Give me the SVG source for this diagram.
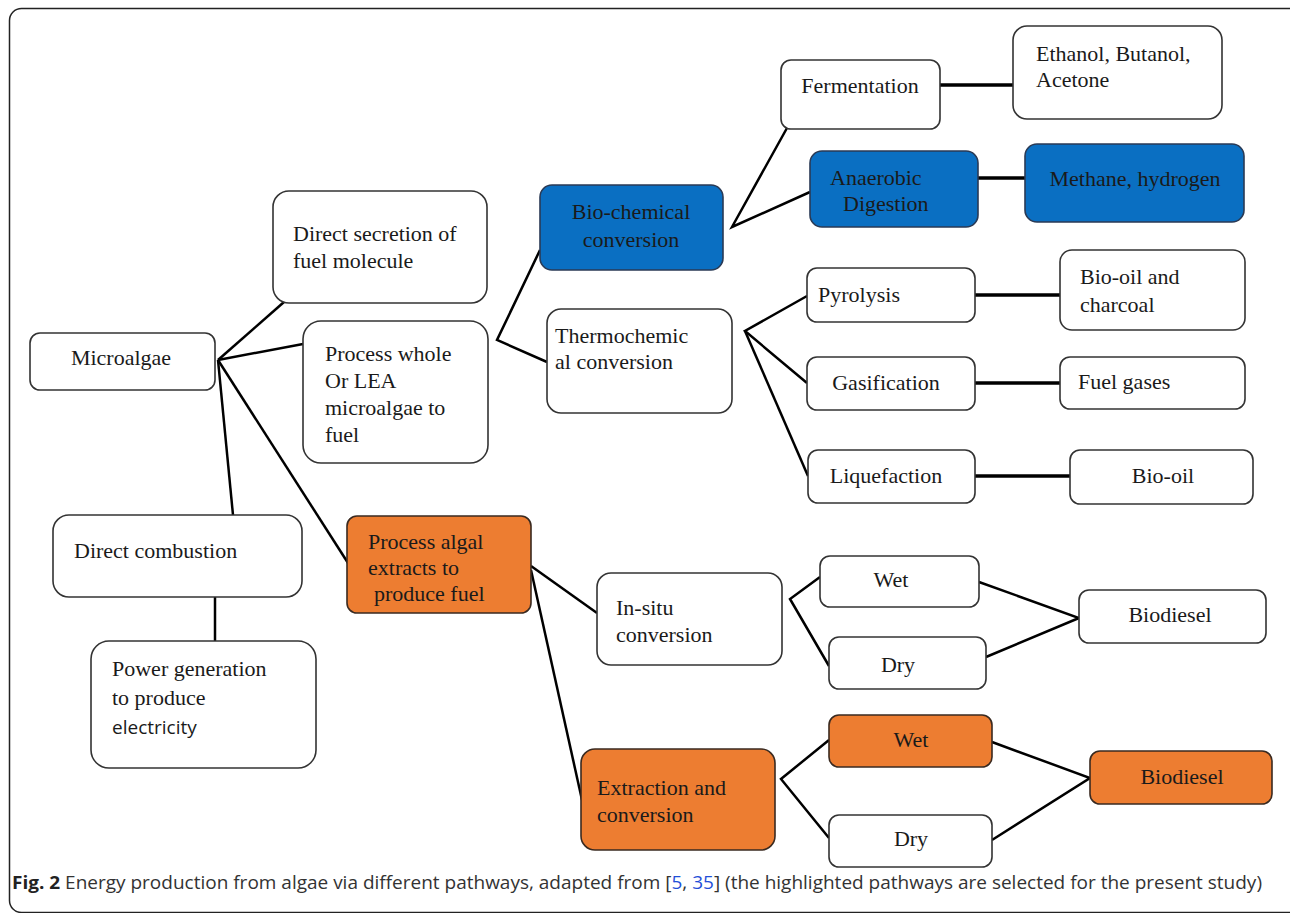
<svg xmlns="http://www.w3.org/2000/svg" width="1290" height="913" viewBox="0 0 1290 913">
<style>
.box{fill:#fff;stroke:#333;stroke-width:1.6}
.blue{fill:#0A6FC2;stroke:#2a3a55;stroke-width:1.6}
.orange{fill:#ED7D31;stroke:#3a2a20;stroke-width:1.6}
.t{font-family:"Liberation Serif","Times New Roman",serif;font-size:22px;fill:#1a1a1a}
.c{text-anchor:middle}
.s{font-family:"Open Sans","Liberation Sans",sans-serif;font-size:19px;fill:#1a1a1a}
.ln{stroke:#000;stroke-width:2.5;fill:none;stroke-linejoin:miter}
.hz{stroke:#000;stroke-width:3.5;fill:none}
.cap{font-family:"Open Sans","Liberation Sans",sans-serif;font-size:18px;fill:#333}
</style>
<rect x="9.5" y="8.5" width="1292" height="904" rx="12" fill="#fff" stroke="#222" stroke-width="1.5"/>

<g id="connectors">
<line class="ln" x1="218" y1="360" x2="284" y2="302"/>
<line class="ln" x1="218" y1="360" x2="303" y2="344"/>
<line class="ln" x1="218" y1="360" x2="233" y2="515"/>
<line class="ln" x1="218" y1="360" x2="348" y2="563"/>
<line class="ln" x1="215" y1="597" x2="215" y2="641"/>
<polyline class="ln" points="540,250 497,340 547,362"/>
<polyline class="ln" points="787,128 732,227 810,192"/>
<line class="hz" x1="940" y1="85" x2="1013" y2="85"/>
<line class="hz" x1="978" y1="178" x2="1025" y2="178"/>
<polyline class="ln" points="807,296 745,331 807,383"/>
<line class="ln" x1="745" y1="331" x2="808" y2="476"/>
<line class="hz" x1="975" y1="295" x2="1060" y2="295"/>
<line class="hz" x1="975" y1="383" x2="1060" y2="383"/>
<line class="hz" x1="975" y1="476" x2="1070" y2="476"/>
<line class="ln" x1="531" y1="566" x2="597" y2="613"/>
<line class="ln" x1="531" y1="570" x2="582" y2="800"/>
<polyline class="ln" points="820,577 790,599 829,666"/>
<polyline class="ln" points="979,582 1079,618 986,657"/>
<polyline class="ln" points="829,740 781,779 829,838"/>
<polyline class="ln" points="992,742 1090,778 992,840"/>
</g>

<g id="microalgae"><rect class="box" x="30" y="333" width="185" height="57" rx="10"/><text class="t c" x="121" y="365">Microalgae</text></g>
<g id="direct-secretion"><rect class="box" x="273" y="191" width="214" height="112" rx="16"/><text class="t" x="293" y="241">Direct secretion of</text><text class="t" x="293" y="268">fuel molecule</text></g>
<g id="process-whole"><rect class="box" x="303" y="321" width="185" height="142" rx="18"/><text class="t" x="325" y="361">Process whole</text><text class="t" x="325" y="388">Or LEA</text><text class="t" x="325" y="415">microalgae to</text><text class="t" x="325" y="442">fuel</text></g>
<g id="direct-combustion"><rect class="box" x="53" y="515" width="249" height="82" rx="16"/><text class="t" x="74" y="558">Direct combustion</text></g>
<g id="power-generation"><rect class="box" x="91" y="641" width="225" height="127" rx="18"/><text class="t" x="112" y="676">Power generation</text><text class="t" x="112" y="705">to produce</text><text class="s" x="112" y="734">electricity</text></g>
<g id="process-algal"><rect class="orange" x="347" y="516" width="184" height="97" rx="10"/><text class="t" x="368" y="549">Process algal</text><text class="t" x="368" y="575">extracts to</text><text class="t" x="374" y="601">produce fuel</text></g>
<g id="bio-chemical"><rect class="blue" x="540" y="185" width="183" height="85" rx="12"/><text class="t c" x="631" y="219">Bio-chemical</text><text class="t c" x="631" y="247">conversion</text></g>
<g id="thermochemical"><rect class="box" x="547" y="309" width="185" height="104" rx="14"/><text class="t" x="555" y="343">Thermochemic</text><text class="t" x="555" y="369">al conversion</text></g>
<g id="fermentation"><rect class="box" x="781" y="60" width="159" height="69" rx="10"/><text class="t c" x="860" y="93">Fermentation</text></g>
<g id="ethanol"><rect class="box" x="1013" y="26" width="209" height="93" rx="14"/><text class="t" x="1036" y="61">Ethanol, Butanol,</text><text class="t" x="1036" y="87">Acetone</text></g>
<g id="anaerobic"><rect class="blue" x="810" y="151" width="168" height="76" rx="12"/><text class="t" x="830" y="185">Anaerobic</text><text class="t" x="843" y="211">Digestion</text></g>
<g id="methane"><rect class="blue" x="1025" y="144" width="219" height="78" rx="12"/><text class="t c" x="1135" y="186">Methane, hydrogen</text></g>
<g id="pyrolysis"><rect class="box" x="807" y="268" width="168" height="54" rx="10"/><text class="t c" x="859" y="302">Pyrolysis</text></g>
<g id="bio-oil-charcoal"><rect class="box" x="1060" y="250" width="185" height="80" rx="12"/><text class="t" x="1080" y="284">Bio-oil and</text><text class="t" x="1080" y="312">charcoal</text></g>
<g id="gasification"><rect class="box" x="807" y="357" width="168" height="53" rx="10"/><text class="t c" x="886" y="390">Gasification</text></g>
<g id="fuel-gases"><rect class="box" x="1060" y="357" width="185" height="52" rx="10"/><text class="t" x="1078" y="389">Fuel gases</text></g>
<g id="liquefaction"><rect class="box" x="808" y="450" width="167" height="53" rx="10"/><text class="t c" x="886" y="483">Liquefaction</text></g>
<g id="bio-oil"><rect class="box" x="1070" y="450" width="183" height="54" rx="10"/><text class="t c" x="1163" y="483">Bio-oil</text></g>
<g id="in-situ"><rect class="box" x="597" y="573" width="185" height="92" rx="14"/><text class="t" x="616" y="615">In-situ</text><text class="t" x="616" y="642">conversion</text></g>
<g id="wet-1"><rect class="box" x="820" y="556" width="159" height="51" rx="10"/><text class="t c" x="891" y="587">Wet</text></g>
<g id="dry-1"><rect class="box" x="829" y="637" width="157" height="52" rx="10"/><text class="t c" x="898" y="672">Dry</text></g>
<g id="biodiesel-1"><rect class="box" x="1079" y="590" width="187" height="53" rx="10"/><text class="t c" x="1170" y="622">Biodiesel</text></g>
<g id="extraction"><rect class="orange" x="581" y="749" width="194" height="101" rx="14"/><text class="t" x="597" y="795">Extraction and</text><text class="t" x="597" y="822">conversion</text></g>
<g id="wet-2"><rect class="orange" x="829" y="715" width="163" height="52" rx="10"/><text class="t c" x="911" y="747">Wet</text></g>
<g id="dry-2"><rect class="box" x="829" y="815" width="163" height="52" rx="10"/><text class="t c" x="911" y="846">Dry</text></g>
<g id="biodiesel-2"><rect class="orange" x="1090" y="751" width="182" height="53" rx="10"/><text class="t c" x="1182" y="784">Biodiesel</text></g>

<text class="cap" x="12" y="889" textLength="1250" lengthAdjust="spacingAndGlyphs"><tspan font-weight="bold" fill="#222">Fig. 2</tspan> Energy production from algae via different pathways, adapted from [<tspan fill="#1f4fd8">5</tspan>, <tspan fill="#1f4fd8">35</tspan>] (the highlighted pathways are selected for the present study)</text>
</svg>
